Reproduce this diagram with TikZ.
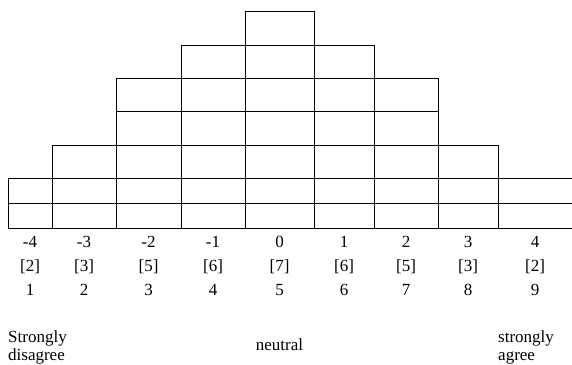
\documentclass[tikz,border=0pt]{standalone}
\usepackage{fontspec}
\setmainfont{Liberation Serif}
\begin{document}
\begin{tikzpicture}[x=1pt,y=-1pt,
  cell/.style={draw=black,line width=1pt},
  lbl/.style={font=\fontsize{17}{18}\selectfont,anchor=base,inner sep=0pt},
  side/.style={font=\fontsize{17}{18}\selectfont,align=left,inner sep=0pt,anchor=base west}]
\useasboundingbox (0,0) rectangle (572,364);
% stacked cells
\foreach \xl/\xr/\n in {8/52/2,52/116/3,116/181/5,181/245/6,245/314/7,314/374/6,374/438/5,438/498/3}{
  \foreach \k in {1,...,\n}{
    \pgfmathsetmacro\ya{{228,203,178,145,111,78,45,11}[\k-1]}
    \pgfmathsetmacro\yb{{228,203,178,145,111,78,45,11}[\k]}
    \draw[cell] (\xl,\ya) rectangle (\xr,\yb);
  }
}
% last column, open at the right
\draw[cell] (498,178) -- (572,178);
\draw[cell] (498,203) -- (572,203);
\draw[cell] (498,228) -- (572,228);
% labels
\foreach \i/\x/\s/\c/\m in {1/30/-4/2/1,2/84/-3/3/2,3/148.5/-2/5/3,4/213/-1/6/4,5/279.5/0/7/5,6/344/1/6/6,7/406/2/5/7,8/468/3/3/8,9/535/4/2/9}{
  \node[lbl] (s\i) at (\x,247) {\s};
  \node[lbl] (c\i) at (\x,271) {[\c]};
  \node[lbl] (m\i) at (\x,295) {\m};
}
\node[side] (sd) at (8,360) {Strongly\\disagree};
\node[lbl] (nt) at (279.5,350) {neutral};
\node[side] (sa) at (498,360) {strongly\\agree};
\end{tikzpicture}
\end{document}
